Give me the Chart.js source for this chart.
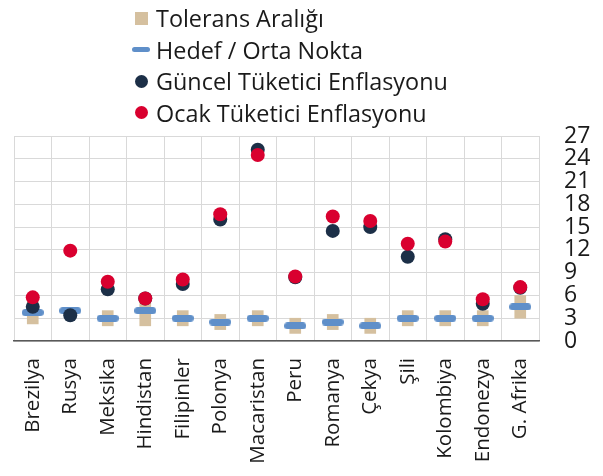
<!DOCTYPE html>
<html>
<head>
<meta charset="utf-8">
<script src="https://cdn.jsdelivr.net/npm/chart.js@4"></script>
<style>
    body { margin: 0; background: #fff; font-family: "Open Sans", sans-serif; }
    #wrap { position: relative; width: 603px; height: 476px; }
    #legend { position: absolute; left: 132px; top: 2.5px; font-size: 23.4px; color: #1a1a1a; }
    .row { height: 31.5px; display: flex; align-items: center; white-space: nowrap; }
    .mk { width: 18px; margin-right: 6px; display: flex; justify-content: center; align-items: center; }
    .sq { width: 13px; height: 13px; background: #d5c09f; }
    .dash { width: 18px; height: 5px; border-radius: 3px; background: #5f8fc9; }
    .dot { width: 13px; height: 13px; border-radius: 50%; }
</style>
</head>
<body>
<div id="wrap">
    <canvas id="chart" width="603" height="476"></canvas>
    <div id="legend">
        <div class="row"><span class="mk"><span class="sq"></span></span>Tolerans Aralığı</div>
        <div class="row"><span class="mk"><span class="dash"></span></span>Hedef / Orta Nokta</div>
        <div class="row"><span class="mk"><span class="dot" style="background:#1c2f47"></span></span>Güncel Tüketici Enflasyonu</div>
        <div class="row"><span class="mk"><span class="dot" style="background:#d9002f"></span></span>Ocak Tüketici Enflasyonu</div>
    </div>
</div>
<script>
const countries = ['Brezilya', 'Rusya', 'Meksika', 'Hindistan', 'Filipinler', 'Polonya', 'Macaristan',
    'Peru', 'Romanya', 'Çekya', 'Şili', 'Kolombiya', 'Endonezya', 'G. Afrika'];
const tolLow  = [2.25, null, 2, 2, 2, 1.5, 2, 1, 1.5, 1, 2, 2, 2, 3];
const tolHigh = [5.25, null, 4, 6, 4, 3.5, 4, 3, 3.5, 3, 4, 4, 4, 6];
const target  = [3.75, 4, 3, 4, 3, 2.5, 3, 2, 2.5, 2, 3, 3, 3, 4.5];
const current = [4.5, 3.4, 6.8, 5.6, 7.5, 16.0, 25.2, 8.4, 14.5, 15.0, 11.1, 13.4, 4.9, 7.0];
const january = [5.75, 11.9, 7.8, 5.6, 8.1, 16.7, 24.5, 8.5, 16.4, 15.8, 12.8, 13.1, 5.5, 7.1];
const yTicks = [0, 3, 6, 9, 12, 15, 18, 21, 24, 27];

// rounded blue dash used as the target marker
function makeDash(w, h, color) {
    const c = document.createElement('canvas');
    c.width = w; c.height = h;
    const g = c.getContext('2d');
    g.fillStyle = color;
    g.beginPath();
    g.roundRect(0, 0, w, h, h / 2);
    g.fill();
    return c;
}

const gridColor = '#d9d9d9';
const ctx = document.getElementById('chart').getContext('2d');

new Chart(ctx, {
    type: 'bar',
    data: {
        labels: countries,
        datasets: [
            {
                label: 'Tolerans Aralığı',
                data: countries.map((c, i) => tolLow[i] == null ? null : [tolLow[i], tolHigh[i]]),
                backgroundColor: '#d5c09f',
                barThickness: 11,
                grouped: false,
                order: 3
            },
            {
                type: 'line',
                label: 'Hedef / Orta Nokta',
                data: target,
                showLine: false,
                pointStyle: makeDash(22, 7, '#5f8fc9'),
                order: 2
            },
            {
                type: 'line',
                label: 'Güncel Tüketici Enflasyonu',
                data: current,
                showLine: false,
                pointRadius: 7,
                pointBorderWidth: 0,
                pointBackgroundColor: '#1c2f47',
                order: 1
            },
            {
                type: 'line',
                label: 'Ocak Tüketici Enflasyonu',
                data: january,
                showLine: false,
                pointRadius: 7,
                pointBorderWidth: 0,
                pointBackgroundColor: '#d9002f',
                order: 0
            }
        ]
    },
    options: {
        responsive: false,
        animation: false,
        layout: { padding: { left: 14, right: 0, top: 136, bottom: 0 } },
        plugins: { legend: { display: false }, tooltip: { enabled: false } },
        scales: {
            x: {
                grid: { color: gridColor, drawTicks: false },
                border: { color: '#595959', width: 1.5 },
                ticks: {
                    color: '#1a1a1a',
                    font: { family: 'Open Sans', size: 20.5 },
                    minRotation: 90, maxRotation: 90,
                    padding: 17,
                    autoSkip: false
                },
                afterFit: s => { s.height = 135; }
            },
            y: {
                position: 'right',
                min: 0, max: 27,
                afterBuildTicks: s => { s.ticks = yTicks.map(v => ({ value: v })); },
                grid: { color: gridColor, drawTicks: false },
                border: { display: false },
                ticks: {
                    color: '#1a1a1a',
                    font: { family: 'Open Sans', size: 23 },
                    padding: 25,
                    autoSkip: false
                },
                afterFit: s => { s.width = 64; }
            }
        }
    }
});
</script>
</body>
</html>
